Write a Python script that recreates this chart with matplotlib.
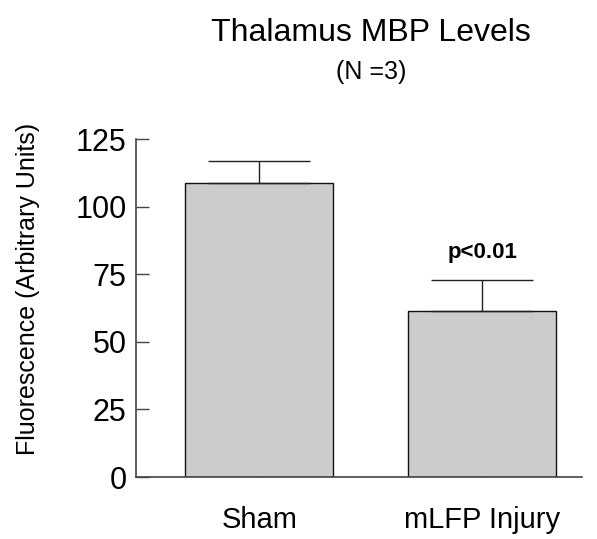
import matplotlib
matplotlib.use("Agg")
import matplotlib.pyplot as plt

categories = ["Sham", "mLFP Injury"]
means = [108.6, 61.5]
sem = [8.4, 11.5]
yticks = [0, 25, 50, 75, 100, 125]

plt.rcParams['font.family'] = ['Liberation Sans', 'DejaVu Sans']

fig = plt.figure(figsize=(5.97, 5.39), dpi=100)
ax = fig.add_axes([0.228, 0.115, 0.747, 0.627])

x = list(range(len(categories)))
ax.bar(x, means, width=0.664, color='#cccccc', edgecolor='#111111', linewidth=1.0,
       yerr=[[0] * len(sem), sem], capsize=37,
       error_kw=dict(ecolor='#222222', elinewidth=1.0, capthick=1.0), zorder=2)

ax.set_xlim(-0.552, 1.448)
ax.set_ylim(0, 125)
ax.set_yticks(yticks)
ax.set_yticklabels([str(v) for v in yticks])
ax.set_xticks(x)
ax.set_xticklabels(categories)

for s in ['top', 'right']:
    ax.spines[s].set_visible(False)
for s in ['left', 'bottom']:
    ax.spines[s].set_color('#444444')
    ax.spines[s].set_linewidth(1.2)

ax.tick_params(axis='y', direction='in', length=9, width=1, color='#444444',
               labelsize=22, pad=7)
ax.tick_params(axis='x', direction='in', length=4, width=1, color='#444444',
               labelsize=21, pad=21)

ax.set_ylabel("Fluorescence (Arbitrary Units)", fontsize=18)
ax.yaxis.set_label_coords(-0.215, 0.556)

ax.text(1, 83, "p<0.01", ha='center', va='center', fontsize=16, fontweight='bold')

fig.text(0.621, 0.939, "Thalamus MBP Levels", ha='center', va='center', fontsize=23)
fig.text(0.621, 0.866, "(N =3)", ha='center', va='center', fontsize=18)

fig.savefig("out.png", dpi=100)
